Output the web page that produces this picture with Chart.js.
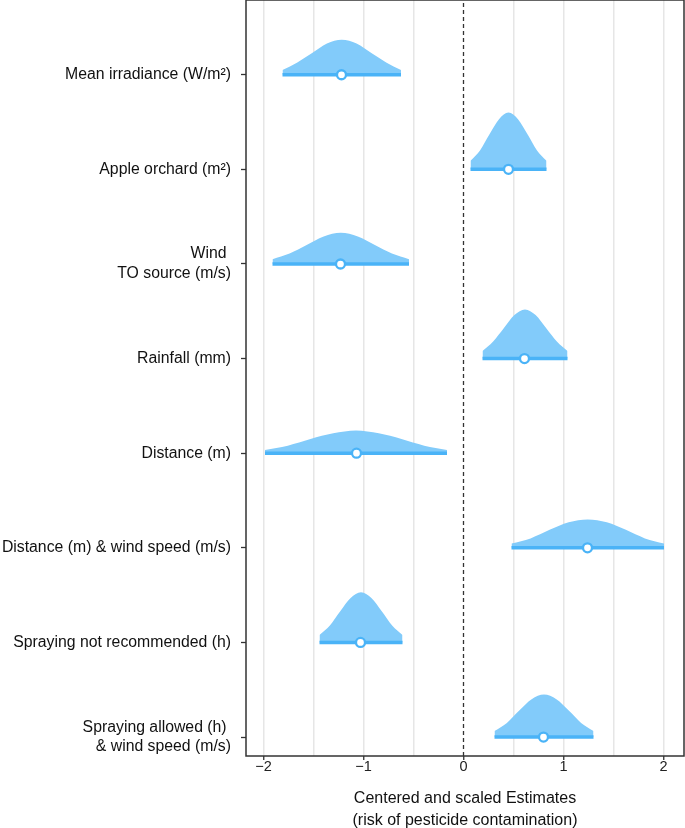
<!DOCTYPE html>
<html>
<head>
<meta charset="utf-8">
<script src="https://cdn.jsdelivr.net/npm/chart.js@4.4.0/dist/chart.umd.min.js"></script>
<style>
  body { margin: 0; background: #fff; }
</style>
</head>
<body>
<canvas id="chart" width="685" height="828"></canvas>
<script>
// predictors, top to bottom
var categories = [
    "Mean irradiance (W/m\u00b2)",
    "Apple orchard (m\u00b2)",
    ["Wind ", "TO source (m/s)"],
    "Rainfall (mm)",
    "Distance (m)",
    "Distance (m) & wind speed (m/s)",
    "Spraying not recommended (h)",
    ["Spraying allowed (h) ", "& wind speed (m/s)"]
];

// point estimates and interval ends
var estimates = [-1.22, 0.45, -1.23, 0.61, -1.07, 1.24, -1.03, 0.80];
var intervalLow = [-1.81, 0.07, -1.91, 0.19, -1.985, 0.48, -1.44, 0.31];
var intervalHigh = [-0.625, 0.83, -0.545, 1.04, -0.165, 2.005, -0.61, 1.30];

// slab (density) heights read at 9 even steps from low to high end
var slabHeights = [
    [0.05, 0.13, 0.23, 0.33, 0.37, 0.33, 0.23, 0.13, 0.05],
    [0.09, 0.20, 0.37, 0.53, 0.60, 0.53, 0.37, 0.20, 0.09],
    [0.05, 0.11, 0.20, 0.29, 0.33, 0.29, 0.20, 0.11, 0.05],
    [0.08, 0.18, 0.32, 0.46, 0.52, 0.46, 0.32, 0.18, 0.08],
    [0.035, 0.08, 0.15, 0.21, 0.24, 0.21, 0.15, 0.08, 0.035],
    [0.045, 0.10, 0.19, 0.27, 0.30, 0.27, 0.19, 0.10, 0.045],
    [0.08, 0.18, 0.33, 0.47, 0.53, 0.47, 0.33, 0.18, 0.08],
    [0.065, 0.15, 0.28, 0.40, 0.45, 0.40, 0.28, 0.15, 0.065]
];

var xTicks = [-2, -1.5, -1, -0.5, 0, 0.5, 1, 1.5, 2];
var xMin = -2.175, xMax = 2.205;
var yMin = 0.80, yMax = 8.79;

var slabColor = "#82cbfa";
var lineColor = "#4ab3f7";
var fontFamily = "'Liberation Sans', Arial, Helvetica, sans-serif";

var datasets = [];

// linea punteada en cero
datasets.push({
    order: 3,
    data: [{ x: 0, y: yMin }, { x: 0, y: yMax }],
    borderColor: "#333",
    borderWidth: 1.3,
    borderDash: [4, 3],
    pointRadius: 0,
    fill: false
});

categories.forEach(function(cat, i) {
    var base = categories.length - i;
    var lo = intervalLow[i], hi = intervalHigh[i];
    var h = slabHeights[i];

    datasets.push({
        order: 2,
        data: h.map(function(v, j) {
            return { x: lo + (hi - lo) * j / (h.length - 1), y: base + v };
        }),
        backgroundColor: slabColor,
        borderWidth: 0,
        pointRadius: 0,
        cubicInterpolationMode: "monotone",
        fill: { value: base }
    });

    datasets.push({
        order: 1,
        data: [{ x: lo, y: base }, { x: hi, y: base }],
        borderColor: lineColor,
        borderWidth: 3.5,
        pointRadius: 0,
        fill: false
    });

    datasets.push({
        order: 0,
        data: [{ x: estimates[i], y: base }],
        showLine: false,
        pointRadius: 4.5,
        pointBorderWidth: 2.3,
        pointBackgroundColor: "#fff",
        pointBorderColor: lineColor
    });
});

// marco del panel
var panelBorder = {
    id: "panelBorder",
    afterDatasetsDraw: function(chart) {
        var a = chart.chartArea, c = chart.ctx;
        c.save();
        c.strokeStyle = "#333";
        c.lineWidth = 1.5;
        c.strokeRect(a.left, a.top, a.right - a.left, a.bottom - a.top);
        c.restore();
    }
};

function noPadding(scale) {
    scale.paddingTop = 0;
    scale.paddingBottom = 0;
    scale.paddingLeft = 0;
    scale.paddingRight = 0;
}

var ctx = document.getElementById("chart").getContext("2d");
var chart = new Chart(ctx, {
    type: "line",
    data: { datasets: datasets },
    plugins: [panelBorder],
    options: {
        responsive: false,
        animation: false,
        devicePixelRatio: 1,
        layout: { autoPadding: false, padding: { top: 0, right: 1, left: 0, bottom: 0 } },
        plugins: { legend: { display: false }, tooltip: { enabled: false } },
        scales: {
            x: {
                type: "linear",
                min: xMin,
                max: xMax,
                afterBuildTicks: function(scale) {
                    scale.ticks = xTicks.map(function(v) { return { value: v }; });
                },
                afterFit: function(scale) {
                    scale.height = 72;
                    noPadding(scale);
                },
                border: { display: false },
                grid: {
                    color: function(c) { return c.tick && c.tick.value === 0 ? "rgba(0,0,0,0)" : "#e6e6e6"; },
                    lineWidth: 1.5,
                    tickLength: 4,
                    tickWidth: 1.3,
                    tickColor: function(c) { return c.tick && Number.isInteger(c.tick.value) ? "#333" : "rgba(0,0,0,0)"; }
                },
                ticks: {
                    autoSkip: false,
                    maxRotation: 0,
                    padding: -2,
                    color: "#222",
                    font: { family: fontFamily, size: 14.5 },
                    callback: function(v) {
                        if (!Number.isInteger(v)) return "";
                        return v < 0 ? "\u2212" + Math.abs(v) : String(v);
                    }
                },
                title: {
                    display: true,
                    text: ["Centered and scaled Estimates", "(risk of pesticide contamination)"],
                    color: "#111",
                    font: { family: fontFamily, size: 16, lineHeight: 1.375 },
                    padding: { top: 0, bottom: -4 }
                }
            },
            y: {
                type: "linear",
                min: yMin,
                max: yMax,
                afterBuildTicks: function(scale) {
                    scale.ticks = categories.map(function(c, i) { return { value: categories.length - i }; });
                },
                afterFit: function(scale) {
                    scale.width = 246;
                    noPadding(scale);
                },
                border: { display: false },
                grid: {
                    drawOnChartArea: false,
                    tickLength: 5,
                    tickWidth: 1.3,
                    tickColor: "#333"
                },
                ticks: {
                    autoSkip: false,
                    padding: 10,
                    color: "#111",
                    font: { family: fontFamily, size: 15.8, lineHeight: 1.25 },
                    callback: function(v) {
                        return categories[categories.length - v];
                    }
                }
            }
        }
    }
});
</script>
</body>
</html>
